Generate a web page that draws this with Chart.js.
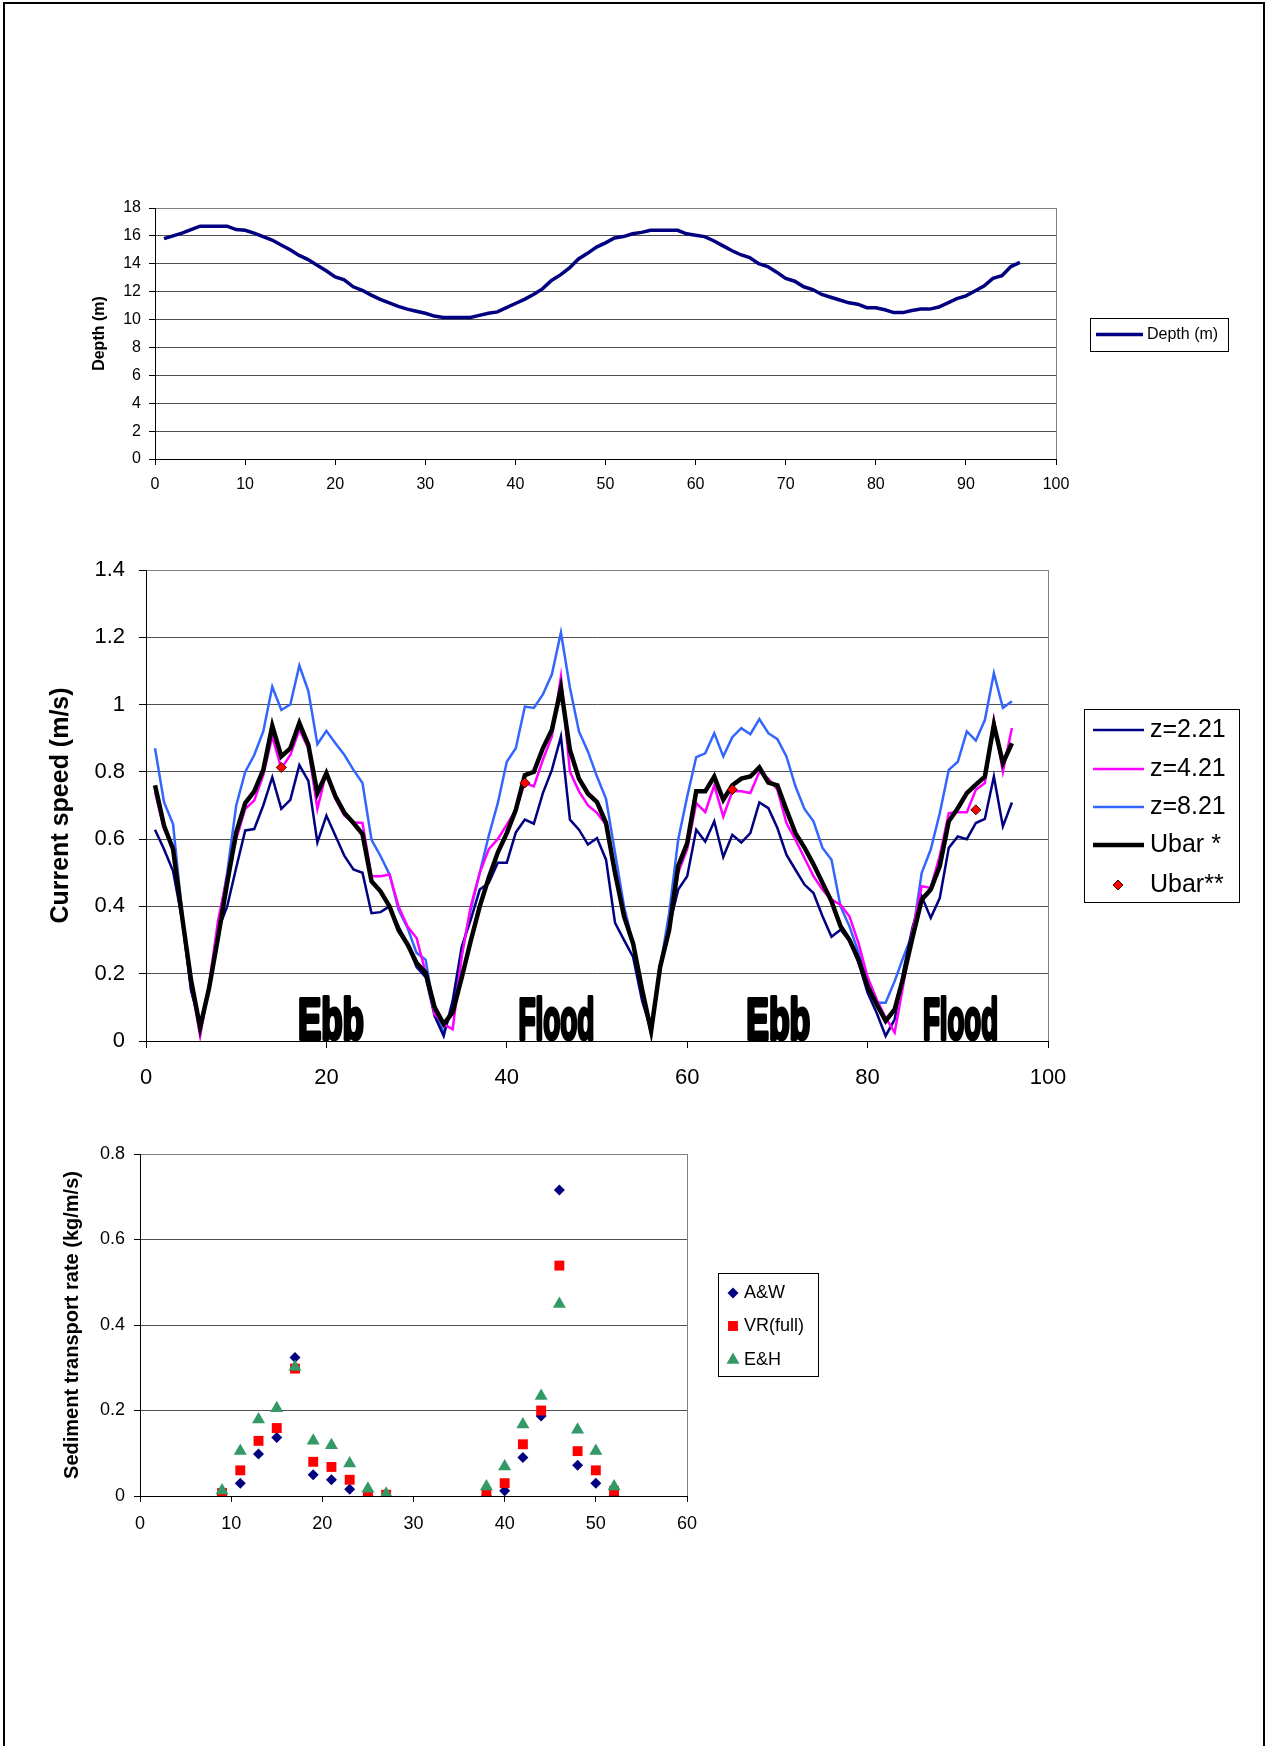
<!DOCTYPE html>
<html>
<head>
<meta charset="utf-8">
<title>Depth, current speed and sediment transport</title>
<script src="https://cdn.jsdelivr.net/npm/chart.js@4.4.1/dist/chart.umd.min.js"></script>
<style>
  html, body { margin: 0; padding: 0; background: #fff; overflow: hidden; }
  body { width: 1265px; height: 1746px; position: relative; }
  #frame { position: absolute; left: 3px; top: 2px; width: 1262px; height: 1800px; box-sizing: border-box;
           border: 2px solid #000; border-bottom: none; }
  canvas { position: absolute; left: 0; }
</style>
</head>
<body>
<div id="frame"></div>
<canvas id="depthChart" width="1265" height="360" style="top:150px"></canvas>
<canvas id="speedChart" width="1265" height="590" style="top:520px"></canvas>
<canvas id="sedimentChart" width="1265" height="440" style="top:1120px"></canvas>
<script>
// time step (x axis of the two upper charts)
const steps = [1,2,3,4,5,6,7,8,9,10,11,12,13,14,15,16,17,18,19,20,21,22,23,24,25,26,27,28,29,30,
  31,32,33,34,35,36,37,38,39,40,41,42,43,44,45,46,47,48,49,50,51,52,53,54,55,56,57,58,59,60,
  61,62,63,64,65,66,67,68,69,70,71,72,73,74,75,76,77,78,79,80,81,82,83,84,85,86,87,88,89,90,
  91,92,93,94,95,96];

// water depth (m)
const depth = [15.8,16.0,16.2,16.45,16.7,16.7,16.7,16.7,16.45,16.4,
  16.2,15.95,15.7,15.35,15.0,14.6,14.3,13.9,13.5,13.05,
  12.85,12.35,12.1,11.75,11.45,11.2,10.95,10.75,10.6,10.45,
  10.25,10.15,10.15,10.15,10.15,10.3,10.45,10.55,10.85,11.15,
  11.45,11.8,12.2,12.8,13.2,13.7,14.35,14.75,15.2,15.5,
  15.85,15.95,16.15,16.25,16.4,16.4,16.4,16.4,16.15,16.05,
  15.95,15.65,15.3,14.95,14.65,14.45,14.0,13.8,13.4,12.95,
  12.75,12.35,12.15,11.8,11.6,11.4,11.2,11.1,10.85,10.85,
  10.7,10.5,10.5,10.65,10.75,10.75,10.9,11.2,11.5,11.7,
  12.05,12.4,12.95,13.15,13.8,14.1];

// current speed (m/s) at three heights and depth mean
const z221 = [0.628,0.57,0.505,0.36,0.15,0.05,0.16,0.33,0.40,0.515,
  0.626,0.63,0.70,0.784,0.69,0.717,0.82,0.773,0.59,0.67,
  0.61,0.55,0.51,0.50,0.38,0.383,0.40,0.34,0.287,0.22,
  0.19,0.074,0.015,0.12,0.28,0.36,0.45,0.47,0.53,0.53,
  0.62,0.658,0.646,0.737,0.806,0.905,0.658,0.628,0.584,0.603,
  0.539,0.351,0.30,0.25,0.12,0.03,0.22,0.34,0.45,0.49,
  0.628,0.593,0.653,0.547,0.613,0.59,0.618,0.709,0.692,0.633,
  0.554,0.509,0.465,0.44,0.371,0.31,0.331,0.297,0.232,0.143,
  0.084,0.015,0.064,0.213,0.34,0.43,0.366,0.425,0.574,0.608,
  0.60,0.648,0.66,0.786,0.638,0.709];
const z421 = [0.74,0.63,0.58,0.37,0.17,0.015,0.17,0.36,0.49,0.60,
  0.69,0.715,0.79,0.905,0.81,0.85,0.925,0.87,0.69,0.80,
  0.72,0.67,0.65,0.648,0.49,0.49,0.495,0.40,0.34,0.306,
  0.203,0.08,0.05,0.035,0.25,0.40,0.50,0.57,0.60,0.643,
  0.687,0.767,0.757,0.836,0.905,1.083,0.80,0.742,0.70,0.678,
  0.643,0.49,0.38,0.29,0.15,0.02,0.23,0.33,0.50,0.57,
  0.707,0.68,0.76,0.667,0.742,0.742,0.737,0.80,0.78,0.747,
  0.648,0.598,0.544,0.49,0.45,0.42,0.405,0.37,0.29,0.19,
  0.124,0.07,0.025,0.173,0.331,0.46,0.455,0.55,0.677,0.68,
  0.68,0.747,0.767,0.955,0.80,0.93];
const z821 = [0.87,0.71,0.645,0.38,0.15,0.05,0.15,0.34,0.50,0.70,
  0.80,0.85,0.92,1.053,0.984,1.0,1.116,1.04,0.882,0.922,
  0.885,0.85,0.806,0.767,0.598,0.55,0.495,0.39,0.336,0.262,
  0.242,0.084,0.025,0.10,0.26,0.39,0.50,0.61,0.707,0.83,
  0.87,0.994,0.99,1.03,1.09,1.214,1.05,0.92,0.86,0.786,
  0.72,0.56,0.40,0.29,0.153,0.03,0.22,0.38,0.598,0.727,
  0.844,0.855,0.915,0.846,0.903,0.93,0.912,0.957,0.915,0.897,
  0.846,0.757,0.69,0.653,0.574,0.539,0.40,0.34,0.262,0.173,
  0.114,0.114,0.178,0.252,0.32,0.50,0.569,0.677,0.806,0.83,
  0.92,0.893,0.954,1.093,0.99,1.01];
const ubar = [0.76,0.64,0.57,0.37,0.18,0.04,0.158,0.31,0.47,0.62,
  0.707,0.742,0.806,0.937,0.846,0.87,0.945,0.88,0.737,0.796,
  0.727,0.678,0.648,0.615,0.475,0.445,0.40,0.33,0.287,0.232,
  0.203,0.10,0.05,0.085,0.188,0.297,0.40,0.485,0.56,0.618,
  0.687,0.79,0.80,0.87,0.925,1.048,0.865,0.78,0.735,0.71,
  0.648,0.50,0.37,0.29,0.153,0.03,0.22,0.33,0.52,0.588,
  0.742,0.742,0.786,0.717,0.76,0.78,0.786,0.813,0.768,0.76,
  0.687,0.618,0.575,0.525,0.47,0.415,0.341,0.30,0.242,0.163,
  0.109,0.06,0.094,0.193,0.31,0.42,0.45,0.52,0.653,0.692,
  0.737,0.762,0.786,0.94,0.826,0.885];
const ubar2X = [15, 42, 65, 92];
const ubar2Y = [0.813, 0.767, 0.747, 0.687];

// tide phase labels
const phaseNames = ['Ebb', 'Flood', 'Ebb', 'Flood'];
const phaseAt = [20.5, 45.5, 70.1, 90.3];

// sediment transport rate (kg/m/s)
const sedX = [9,11,13,15,17,19,21,23,25,27,38,40,42,44,46,48,50,52];
const aw = [0,0.03,0.098,0.137,0.324,0.05,0.038,0.016,0,0,0,0.012,0.09,0.187,0.716,0.072,0.03,0];
const vrFull = [0.007,0.06,0.129,0.159,0.298,0.08,0.068,0.038,0.003,0.003,0.005,0.03,0.121,0.2,0.539,0.105,0.06,0.012];
const eh = [0.013,0.105,0.179,0.205,0.302,0.129,0.119,0.076,0.017,0.005,0.022,0.069,0.167,0.234,0.449,0.155,0.105,0.022];

const pts = (xs, ys) => xs.map((x, i) => ({x: x, y: ys[i]}));

Chart.defaults.font.family = '"Liberation Sans", Arial, sans-serif';
Chart.defaults.color = '#000';

function marker(ctx, style, x, y, r, fill, stroke, bw) {
  ctx.beginPath();
  if (style === 'rectRot') {
    ctx.moveTo(x, y - r); ctx.lineTo(x + r, y); ctx.lineTo(x, y + r); ctx.lineTo(x - r, y);
  } else if (style === 'triangle') {
    const h = r * Math.sqrt(3) / 2;
    ctx.moveTo(x, y - r); ctx.lineTo(x + h, y + r / 2); ctx.lineTo(x - h, y + r / 2);
  } else {
    const s = r * Math.SQRT1_2;
    ctx.rect(x - s, y - s, 2 * s, 2 * s);
  }
  ctx.closePath();
  ctx.fillStyle = fill; ctx.fill();
  if (bw) { ctx.lineWidth = bw; ctx.strokeStyle = stroke; ctx.stroke(); }
}

// framed legend, Excel style
const boxLegend = {
  id: 'boxLegend',
  afterDraw(chart, args, o) {
    if (!o.box) return;
    const ctx = chart.ctx;
    const [bx, by, bw, bh] = o.box;
    ctx.save();
    ctx.fillStyle = '#fff';
    ctx.fillRect(bx, by, bw, bh);
    ctx.strokeStyle = '#000';
    ctx.lineWidth = 1;
    ctx.strokeRect(bx + 0.5, by + 0.5, bw, bh);
    o.order.forEach((di, i) => {
      const ds = chart.data.datasets[di];
      const y = o.rows[i];
      if (ds.showLine === false || chart.config.type === 'scatter') {
        marker(ctx, ds.pointStyle, o.markX, y, ds.pointRadius, ds.pointBackgroundColor, ds.pointBorderColor, ds.pointBorderWidth);
      } else {
        ctx.beginPath();
        ctx.moveTo(o.line[0], y); ctx.lineTo(o.line[1], y);
        ctx.strokeStyle = ds.borderColor; ctx.lineWidth = ds.borderWidth;
        ctx.stroke();
      }
      ctx.font = o.font;
      ctx.fillStyle = '#000';
      ctx.textBaseline = 'middle';
      ctx.textAlign = 'left';
      ctx.fillText(ds.label, o.textX, y);
    });
    ctx.restore();
  }
};

// bold "Ebb" / "Flood" words sitting on the x axis
const phaseLabels = {
  id: 'phaseLabels',
  afterDatasetsDraw(chart, args, o) {
    if (!o.names) return;
    const {ctx, scales: {x, y}} = chart;
    ctx.save();
    ctx.font = o.font;
    ctx.fillStyle = '#000';
    ctx.strokeStyle = '#000';
    ctx.lineWidth = o.stroke;
    ctx.lineJoin = 'round';
    ctx.textAlign = 'center';
    ctx.textBaseline = 'alphabetic';
    o.names.forEach((t, i) => {
      const w = ctx.measureText(t).width;
      ctx.save();
      ctx.translate(x.getPixelForValue(o.at[i]), y.getPixelForValue(0) - 2);
      ctx.scale(o.widths[i] / w, 1);
      ctx.strokeText(t, 0, 0);
      ctx.fillText(t, 0, 0);
      ctx.restore();
    });
    ctx.restore();
  }
};

// Excel style numbers: 1 not 1.0
const fmt = v => String(Math.round(v * 100) / 100);

function xAxis(max, step, fontSize, tick, pad, h) {
  return {
    type: 'linear', min: 0, max: max,
    ticks: { stepSize: step, font: { size: fontSize }, padding: pad, maxRotation: 0, autoSkip: false, callback: fmt },
    grid: { drawOnChartArea: true, tickLength: tick, tickColor: '#000',
            color: c => (c.tick && c.tick.value === max) ? '#808080' : 'rgba(0,0,0,0)' },
    border: { color: '#000', width: 1 },
    afterFit: s => { s.height = h; }
  };
}
function yAxis(max, step, fontSize, tick, pad, w, title, titleSize, titlePad) {
  return {
    min: 0, max: max,
    ticks: { stepSize: step, font: { size: fontSize }, padding: pad, callback: fmt },
    grid: { tickLength: tick, tickColor: '#000',
            color: c => (c.tick && c.tick.value === max) ? '#808080' : (c.tick && c.tick.value === 0 ? '#000' : '#505050') },
    border: { color: '#000', width: 1 },
    title: { display: true, text: title, font: { size: titleSize, weight: 'bold' }, padding: { top: titlePad, bottom: 0 } },
    afterFit: s => { s.width = w; }
  };
}

// depth
new Chart(document.getElementById('depthChart'), {
  type: 'line',
  data: {
    datasets: [{
      label: 'Depth (m)', data: pts(steps, depth),
      borderColor: '#000080', borderWidth: 3.5, pointRadius: 0, tension: 0, fill: false
    }]
  },
  options: {
    responsive: false, animation: false, devicePixelRatio: 1,
    layout: { padding: { left: 0, right: 209, top: 58, bottom: 0 } },
    plugins: {
      legend: { display: false }, tooltip: { enabled: false },
      boxLegend: { box: [1090, 168, 138, 33], order: [0], rows: [184.5], line: [1096, 1143], textX: 1147, font: '16px "Liberation Sans", Arial' }
    },
    scales: {
      x: xAxis(100, 10, 16, 6, 10, 51),
      y: yAxis(18, 2, 16, 6, 8, 155, 'Depth (m)', 16, 90)
    }
  },
  plugins: [boxLegend]
});

// current speed
new Chart(document.getElementById('speedChart'), {
  type: 'line',
  data: {
    datasets: [
      { label: 'z=2.21', data: pts(steps, z221), borderColor: '#000080', borderWidth: 2.5, pointRadius: 0, tension: 0, order: 3 },
      { label: 'z=4.21', data: pts(steps, z421), borderColor: '#FF00FF', borderWidth: 2.5, pointRadius: 0, tension: 0, order: 2 },
      { label: 'z=8.21', data: pts(steps, z821), borderColor: '#3366FF', borderWidth: 2.5, pointRadius: 0, tension: 0, order: 4 },
      { label: 'Ubar *', data: pts(steps, ubar), borderColor: '#000000', borderWidth: 4.5, pointRadius: 0, tension: 0, order: 1 },
      { label: 'Ubar**', data: pts(ubar2X, ubar2Y), showLine: false, pointStyle: 'rectRot', pointRadius: 5,
        pointBackgroundColor: '#FF0000', pointBorderColor: '#400000', pointBorderWidth: 1, order: 0 }
    ]
  },
  options: {
    responsive: false, animation: false, devicePixelRatio: 1,
    layout: { padding: { left: 0, right: 217, top: 50, bottom: 0 } },
    plugins: {
      legend: { display: false }, tooltip: { enabled: false },
      boxLegend: { box: [1084, 189, 155, 193], order: [0, 1, 2, 3, 4], rows: [210, 249, 287, 325, 365],
                   line: [1093, 1144], markX: 1118, textX: 1150, font: '25px "Liberation Sans", Arial' },
      phaseLabels: { names: phaseNames, at: phaseAt, widths: [66, 76, 64, 75], font: 'bold 57px "Liberation Sans", Arial', stroke: 4 }
    },
    scales: {
      x: xAxis(100, 20, 22, 7, 17, 69),
      y: yAxis(1.4, 0.2, 22, 7, 14, 146, 'Current speed (m/s)', 25, 46)
    }
  },
  plugins: [boxLegend, phaseLabels]
});

// sediment transport
new Chart(document.getElementById('sedimentChart'), {
  type: 'scatter',
  data: {
    datasets: [
      { label: 'A&W', data: pts(sedX, aw), pointStyle: 'rectRot', pointRadius: 5.5,
        pointBackgroundColor: '#000080', pointBorderColor: '#000080', pointBorderWidth: 0, order: 3 },
      { label: 'VR(full)', data: pts(sedX, vrFull), pointStyle: 'rect', pointRadius: 7,
        pointBackgroundColor: '#FF0000', pointBorderColor: '#FF0000', pointBorderWidth: 0, order: 2 },
      { label: 'E&H', data: pts(sedX, eh), pointStyle: 'triangle', pointRadius: 7.5,
        pointBackgroundColor: '#339966', pointBorderColor: '#339966', pointBorderWidth: 0, order: 1 }
    ]
  },
  options: {
    responsive: false, animation: false, devicePixelRatio: 1,
    layout: { padding: { left: 0, right: 578, top: 34, bottom: 0 } },
    plugins: {
      legend: { display: false }, tooltip: { enabled: false },
      boxLegend: { box: [718, 153, 100, 103], order: [0, 1, 2], rows: [173, 206, 240],
                   markX: 733, textX: 744, font: '18px "Liberation Sans", Arial' }
    },
    scales: {
      x: xAxis(60, 10, 18, 6, 11, 64),
      y: yAxis(0.8, 0.2, 18, 6, 9, 140, 'Sediment transport rate (kg/m/s)', 20, 60)
    }
  },
  plugins: [boxLegend]
});
</script>
</body>
</html>
